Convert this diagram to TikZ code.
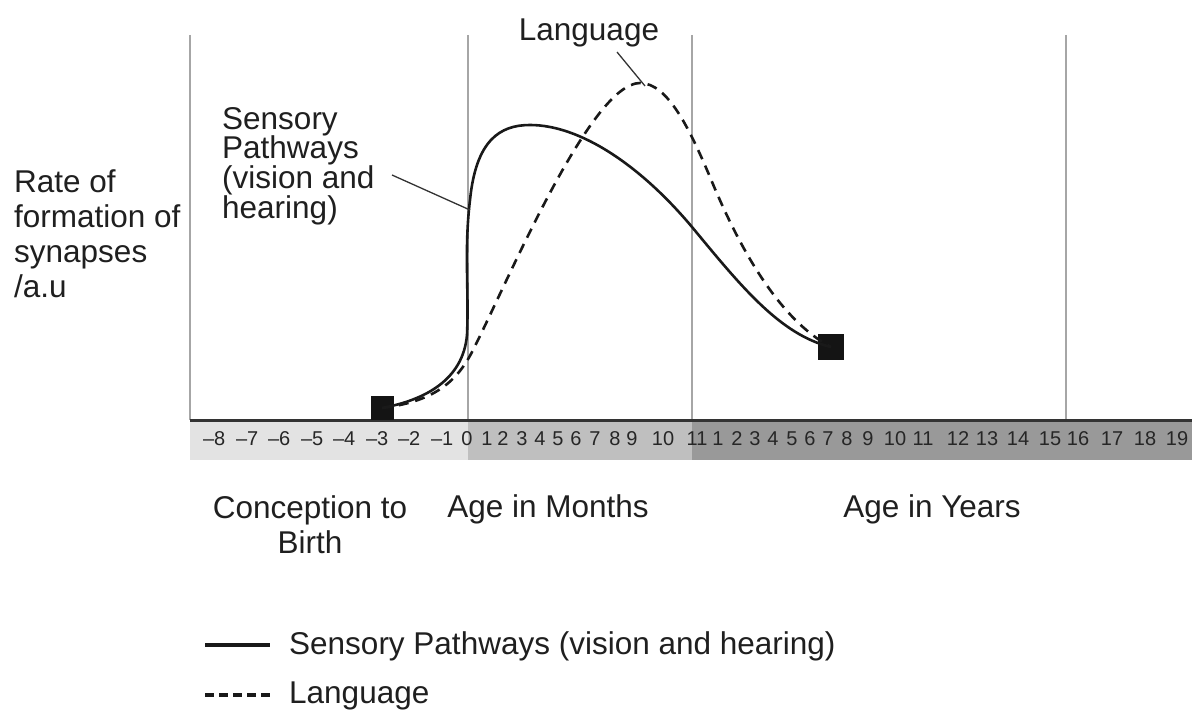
\documentclass[tikz,border=0pt]{standalone}
\usepackage{fontspec}
\setmainfont{Liberation Sans}
\begin{document}
\begin{tikzpicture}[x=1pt,y=-1pt,
  lbl/.style={font=\fontsize{31.5}{35}\selectfont, text=black!88, inner sep=0pt},
  tick/.style={font=\fontsize{20}{21}\selectfont, text=black!85, inner sep=0pt},
  grid/.style={draw=black!35, line width=1.5pt},
  curve/.style={line width=2.6pt, black!90},
  dcurve/.style={line width=2.6pt, black!90, dash pattern=on 10pt off 7pt},
  pointer/.style={draw=black!80, line width=1.3pt},
  marker/.style={fill=black!92, inner sep=0pt, minimum size=#1}
]
\useasboundingbox (0,0) rectangle (1192,711);
% bands
\fill[black!11] (190,420) rectangle (468,460);
\fill[black!25] (468,420) rectangle (692,460);
\fill[black!40] (692,420) rectangle (1192,460);
% vertical lines
\foreach \x in {190,468,692,1066} \draw[grid] (\x,35) -- (\x,420);
\draw[black!80, line width=3pt] (190,420) -- (1192,420);
% tick labels
\foreach \n/\x in {8/220,7/253,6/285,5/318,4/350,3/383,2/415,1/448}
  \node[tick, anchor=east] at (\x+5.5,439) {--\n};
\node[tick] at (467,439) {0};
\foreach \n/\x in {1/487,2/503,3/522,4/540,5/558,6/576,7/595,8/615,9/632,10/663,11/697}
  \node[tick] at (\x,439) {\n};
\foreach \n/\x in {1/718,2/737,3/755,4/773,5/792,6/810,7/828,8/847,9/868,10/895,11/923,12/958,13/987,14/1018,15/1050,16/1078,17/1112,18/1145,19/1177}
  \node[tick] at (\x,439) {\n};
% markers
\node[marker=23pt] (start) at (382,408) {};
\node[marker=26pt] (stop) at (831,347) {};
% curves
\draw[dcurve] (start.center) .. controls (430,402) and (455,385) .. (472,352)
  .. controls (505,288) and (590,83) .. (640,83)
  .. controls (668,83) and (690,130) .. (710,177)
  .. controls (740,250) and (780,320) .. (stop.center);
\draw[curve] (start.center) .. controls (425,400) and (463,380) .. (467,335)
  .. controls (469,290) and (464,250) .. (470,200)
  .. controls (476,140) and (500,125) .. (530,125)
  .. controls (580,125) and (640,165) .. (692,227)
  .. controls (740,285) and (780,335) .. (stop.center);
% labels
\node[lbl, align=left, anchor=north west] (ylab) at (14,170) {Rate of\\formation of\\synapses\\/a.u};
\node[lbl, align=left, anchor=north west, font=\fontsize{31.5}{29.7}\selectfont] (sens) at (222,107) {Sensory\\Pathways\\(vision and\\hearing)};
\coordinate (sensptr) at (470,210);
\draw[pointer] (392,175) -- (sensptr);
\node[lbl] (lang) at (589,33) {Language};
\coordinate (langptr) at (645,86);
\draw[pointer] (617,52) -- (langptr);
\node[lbl, align=center] (conc) at (310,525) {Conception to\\Birth};
\node[lbl] (months) at (548,509) {Age in Months};
\node[lbl] (years) at (932,509) {Age in Years};
% legend
\coordinate (l1a) at (205,645); \coordinate (l1b) at (270,645);
\coordinate (l2a) at (205,695); \coordinate (l2b) at (270,695);
\draw[black!90, line width=3.2pt] (l1a) -- (l1b);
\draw[black!90, line width=3.2pt, dash pattern=on 9pt off 5pt] (l2a) -- (l2b);
\node[lbl, anchor=west] (leg1) at (289,646) {Sensory Pathways (vision and hearing)};
\node[lbl, anchor=west] (leg2) at (289,696) {Language};
\end{tikzpicture}
\end{document}
